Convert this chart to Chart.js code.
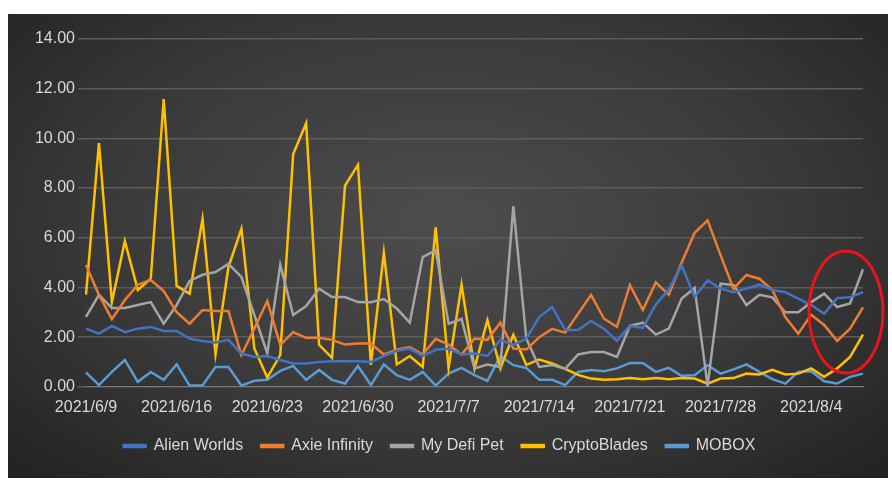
<!DOCTYPE html>
<html>
<head>
<meta charset="utf-8">
<script src="https://cdn.jsdelivr.net/npm/chart.js@4/dist/chart.umd.min.js"></script>
<style>
  body { margin: 0; background: #fff; }
  #wrap { position: absolute; left: 8px; top: 14px; width: 880px; height: 464px;
    background: radial-gradient(ellipse at 50% 45%, #4d4d4d 0%, #3a3a3a 55%, #222 100%); }
</style>
</head>
<body>
<div id="wrap"><canvas id="chart" width="880" height="464"></canvas></div>
<script>
// daily dates 2021/6/9 .. 2021/8/8
const dates = [];
for (let d = new Date(2021, 5, 9); d <= new Date(2021, 7, 8); d.setDate(d.getDate() + 1)) {
  dates.push('2021/' + (d.getMonth() + 1) + '/' + d.getDate());
}

const alienWorlds = [2.34, 2.14, 2.45, 2.2, 2.34, 2.41, 2.25, 2.25, 1.94, 1.84, 1.78, 1.89, 1.34, 1.2, 1.24, 1.08, 0.94, 0.94, 1.0, 1.03,
  1.03, 1.03, 1.0, 1.24, 1.45, 1.54, 1.24, 1.49, 1.54, 1.3, 1.34, 1.24, 1.89, 1.69, 1.94, 2.81, 3.21, 2.29, 2.29, 2.65,
  2.34, 1.85, 2.45, 2.37, 3.31, 3.92, 4.89, 3.61, 4.28, 3.95, 3.81, 3.95, 4.11, 3.9, 3.81, 3.55, 3.29, 2.94, 3.57, 3.6, 3.81];
const axieInfinity = [4.9, 3.7, 2.73, 3.49, 4.11, 4.3, 3.85, 3.0, 2.54, 3.09, 3.05, 3.05, 1.28, 2.34, 3.45, 1.69, 2.2, 1.97, 1.97, 1.89,
  1.7, 1.74, 1.74, 1.3, 1.49, 1.6, 1.3, 1.93, 1.7, 1.3, 1.94, 1.89, 2.58, 1.54, 1.5, 2.0, 2.33, 2.18, 2.94, 3.7,
  2.74, 2.41, 4.1, 3.09, 4.2, 3.7, 5.0, 6.2, 6.7, 5.3, 3.95, 4.5, 4.35, 3.9, 2.81, 2.14, 2.9, 2.49, 1.85, 2.34, 3.2];
const myDefiPet = [2.81, 3.7, 3.17, 3.17, 3.29, 3.41, 2.54, 3.29, 4.26, 4.51, 4.62, 4.95, 4.42, 2.89, 1.34, 4.91, 2.89, 3.25, 3.95, 3.61,
  3.61, 3.41, 3.4, 3.53, 3.15, 2.58, 5.22, 5.5, 2.54, 2.73, 0.74, 0.9, 0.8, 7.27, 1.94, 0.8, 0.88, 0.72, 1.3, 1.4,
  1.4, 1.2, 2.45, 2.58, 2.1, 2.34, 3.55, 3.98, 0.05, 4.15, 4.1, 3.29, 3.7, 3.6, 3.0, 3.0, 3.41, 3.75, 3.21, 3.35, 4.73];
const cryptoBlades = [3.71, 9.81, 3.41, 5.86, 3.9, 4.35, 11.58, 4.06, 3.75, 6.76, 1.3, 4.82, 6.36, 1.54, 0.37, 1.28, 9.37, 10.61, 1.69, 1.16,
  8.1, 8.93, 0.88, 5.39, 0.9, 1.24, 0.8, 6.42, 0.76, 4.11, 0.74, 2.69, 0.74, 2.09, 0.88, 1.1, 0.94, 0.72, 0.48, 0.33,
  0.28, 0.3, 0.35, 0.3, 0.35, 0.3, 0.35, 0.33, 0.13, 0.33, 0.35, 0.53, 0.5, 0.68, 0.5, 0.53, 0.74, 0.4, 0.74, 1.2, 2.1];
const mobox = [0.58, 0.07, 0.6, 1.08, 0.2, 0.6, 0.28, 0.9, 0.05, 0.05, 0.8, 0.8, 0.05, 0.24, 0.28, 0.64, 0.84, 0.28, 0.68, 0.28,
  0.13, 0.84, 0.07, 0.9, 0.47, 0.28, 0.6, 0.05, 0.53, 0.76, 0.47, 0.24, 1.24, 0.87, 0.76, 0.28, 0.28, 0.07, 0.6, 0.68,
  0.63, 0.74, 0.96, 0.96, 0.6, 0.76, 0.44, 0.47, 0.87, 0.53, 0.7, 0.9, 0.6, 0.31, 0.13, 0.6, 0.63, 0.22, 0.13, 0.4, 0.53];

function line(label, data, color) {
  return { label, data, borderColor: color, backgroundColor: color, borderWidth: 2.5,
    pointRadius: 0, tension: 0 };
}

// red ellipse highlighting the last days
const circlePlugin = {
  id: 'circle',
  afterDraw(chart) {
    const c = chart.ctx;
    c.save();
    c.strokeStyle = '#e8151b';
    c.lineWidth = 3;
    c.beginPath();
    c.ellipse(838, 298, 37, 61, 0, 0, Math.PI * 2);
    c.stroke();
    c.restore();
  }
};

new Chart(document.getElementById('chart'), {
  type: 'line',
  data: {
    labels: dates,
    datasets: [
      line('Alien Worlds', alienWorlds, '#4472c4'),
      line('Axie Infinity', axieInfinity, '#ed7d31'),
      line('My Defi Pet', myDefiPet, '#a5a5a5'),
      line('CryptoBlades', cryptoBlades, '#ffc000'),
      line('MOBOX', mobox, '#5b9bd5')
    ]
  },
  options: {
    responsive: false,
    animation: false,
    layout: { padding: { left: 8, right: 25, top: 25, bottom: 14 } },
    plugins: {
      legend: {
        position: 'bottom',
        labels: { color: '#d9d9d9', font: { family: 'Liberation Sans', size: 16 },
          boxWidth: 22, boxHeight: 2, padding: 18 }
      },
      tooltip: { enabled: false }
    },
    scales: {
      x: {
        offset: false,
        grid: { display: false },
        border: { color: '#7a7a7a' },
        ticks: {
          color: '#d9d9d9', font: { family: 'Liberation Sans', size: 16 },
          autoSkip: false, maxRotation: 0,
          callback: (v, i) => (i % 7 === 0 ? dates[i] : '')
        }
      },
      y: {
        min: 0, max: 14,
        afterFit: s => { s.width = 70; },
        grid: { color: '#5c5c5c', lineWidth: 1.5 },
        border: { display: false },
        ticks: { stepSize: 2, color: '#d9d9d9', font: { family: 'Liberation Sans', size: 16 },
          callback: v => v.toFixed(2) }
      }
    }
  },
  plugins: [circlePlugin]
});
</script>
</body>
</html>
